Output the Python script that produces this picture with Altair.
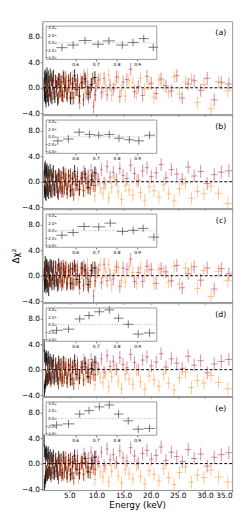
import altair as alt
import numpy as np
import pandas as pd

# ---------------- energies of the spectral bins (keV) ----------------
E_PN = [0.35, 0.40, 0.45, 0.50, 0.55, 0.60, 0.65, 0.70, 0.76, 0.82,
        0.88, 0.95, 1.02, 1.10, 1.18, 1.27, 1.36, 1.46, 1.56, 1.67,
        1.79, 1.91, 2.04, 2.18, 2.33, 2.49, 2.66, 2.84, 3.03, 3.24,
        3.46, 3.70, 3.96, 4.24, 4.54, 4.86, 5.20, 5.57, 5.97, 6.40,
        6.86, 7.35, 7.88, 8.45, 9.06, 9.70]
E_MOS = [0.6, 0.8, 1.0, 1.2, 1.4, 1.6, 1.8, 2.0, 2.2, 2.4,
         2.6, 2.8, 3.0, 3.2, 3.4, 3.6, 3.85, 4.1, 4.35, 4.6,
         4.9, 5.2, 5.5, 5.8, 6.15, 6.5, 6.85, 7.2, 7.6, 8.0,
         8.4, 8.85, 9.3, 9.75]
E_FPMA = [3.1, 3.35, 3.6, 3.85, 4.1, 4.35, 4.6, 4.9, 5.2, 5.5,
          5.8, 6.15, 6.5, 6.9, 7.3, 7.7, 8.1, 8.55, 9.0, 9.45,
          9.9, 10.4, 10.9, 11.4, 11.95, 12.5, 13.1, 13.7, 14.3, 14.9,
          15.6, 16.3, 17.0, 17.7, 18.5, 19.3, 20.1, 21.0, 21.9, 22.8,
          23.8, 24.8, 25.8, 26.9, 28.0, 29.2, 30.4, 31.7, 33.0, 34.4]
E_FPMB = [3.2, 3.45, 3.7, 3.95, 4.2, 4.5, 4.75, 5.05, 5.35, 5.65,
          6.0, 6.35, 6.7, 7.1, 7.5, 7.9, 8.35, 8.8, 9.25, 9.7,
          10.2, 10.7, 11.2, 11.7, 12.25, 12.8, 13.4, 14.0, 14.6, 15.3,
          16.0, 16.7, 17.4, 18.1, 18.9, 19.7, 20.6, 21.5, 22.4, 23.3,
          24.3, 25.3, 26.4, 27.5, 28.6, 29.8, 31.1, 32.5, 34.2]

# ---------------- residuals, panel (a) ----------------
A_PN = [0.5, -1.2, 1.6, -0.8, 1.9, -1.5, 0.9, -2.1, 1.4, -0.6,
        2.2, -1.3, 0.3, 1.7, -1.9, 0.8, -0.4, 2.0, -1.1, 1.2,
        -1.6, 0.6, 1.8, -0.9, -1.4, 1.0, 0.2, -1.8, 1.3, -0.5,
        0.9, -1.2, 1.5, 0.4, -0.9, 1.1, -1.6, 0.7, 1.9, -0.3,
        -1.3, 0.8, 1.4, -1.0, 0.5, 1.6]
A_MOS = [0.3, -1.0, 1.2, -0.7, 0.9, -1.4, 1.6, 0.2, -0.9, 1.1,
         -0.4, 0.7, -1.5, 1.3, 0.1, -1.1, 1.8, -0.6, 0.9, -1.3,
         0.4, 1.5, -0.8, -1.6, 0.6, 1.2, -0.3, 0.8, -1.9, 1.0,
         0.2, -0.7, 1.4, -1.1]
A_FPMA = [1.1, -0.6, 0.9, -1.3, 0.4, 1.6, -0.9, 0.2, 1.3, -1.7,
          0.6, -0.3, 1.0, -2.4, 0.8, 1.9, -0.7, -1.5, 0.5, -3.0,
          0.3, 1.2, -0.8, 1.5, -1.1, 0.4, -0.2, 1.7, -1.4, 0.9,
          1.3, 2.9, -0.6, 0.2, -1.2, 1.8, 0.7, -0.9, 1.4, 0.3,
          -0.5, 1.9, -1.6, 0.6, 1.1, -0.4, 1.5, -1.9, 0.8, 0.6]
A_FPMB = [-0.8, 1.2, 0.3, -1.4, 1.7, -0.5, 0.9, -1.1, 0.4, 1.8,
          -0.7, 0.6, -1.6, 1.3, 0.2, -0.9, 2.1, -0.3, 1.0, -1.8,
          0.7, 1.4, -0.6, 0.3, 2.0, -1.2, 0.5, 1.6, -0.4, -1.3,
          1.1, 0.8, -0.9, 1.5, -0.2, 0.6, -1.5, 1.2, 0.4, -0.7,
          1.7, -1.0, 0.9, 1.3, -2.3, 0.5, -3.3, 1.0, -0.5]

# ---------------- residuals, panel (b) ----------------
B_PN = [0.8, -1.5, 1.9, -1.0, 2.3, -1.8, 1.2, -2.0, 1.6, -0.9,
        1.9, -1.4, 0.5, 1.5, -1.7, 1.0, -0.6, 1.8, -1.3, 0.9,
        -1.5, 0.4, 1.6, -1.1, -1.3, 0.8, 0.1, -1.6, 1.1, -0.7,
        0.7, -1.0, 1.3, 0.2, -1.1, 0.9, -1.4, 0.5, 1.6, -0.5,
        -1.2, 0.6, 1.2, -0.9, 0.3, 1.4]
B_MOS = [0.1, -1.2, 0.9, -1.0, 0.6, -1.6, 1.2, -0.3, -1.3, 0.8,
         -0.8, 0.4, -1.9, 0.9, -0.4, -1.5, 1.4, -1.0, 0.5, -1.7,
         0.1, 1.1, -1.2, -2.0, 0.3, 0.8, -0.7, 0.5, -1.4, 0.6,
         -0.2, -1.1, 0.9, -0.6]
B_FPMA = [0.4, -1.0, 0.6, -1.5, 0.2, 1.1, -1.2, 0.0, 0.9, -1.4,
          0.5, -0.5, 1.3, -0.8, 0.6, 1.6, -0.3, 0.9, 1.8, -0.6,
          1.2, 0.4, 1.9, -0.2, 2.4, 0.7, 1.5, 0.3, 2.1, 1.0,
          0.5, 2.6, 1.3, 0.2, 1.7, 2.2, 0.8, 1.4, 2.7, 0.6,
          1.9, 1.2, 0.4, 2.3, 0.9, 1.6, -0.3, 1.1, 1.5, 1.7]
B_FPMB = [-0.6, 0.9, -0.2, -1.5, 1.1, -0.9, 0.4, -1.6, -0.2, 1.0,
          -1.2, 0.1, -2.0, 0.6, -0.7, -1.4, 0.9, -1.1, -0.3, -2.2,
          0.2, -1.0, -1.8, -0.4, -2.5, -0.9, 0.3, -1.6, -2.8, -0.6,
          -1.3, -2.1, 0.1, -1.7, -2.9, -0.8, -1.4, -2.4, -0.5, -1.9,
          -3.0, -1.1, -0.2, -2.6, -1.5, -1.9, -0.7, -1.8, -3.4]

# ---------------- residuals, panel (c) ----------------
C_PN = [0.2, -1.6, 1.3, -0.5, 2.1, -1.2, 0.6, -1.8, 1.7, -0.9,
        1.5, -1.6, 0.7, 1.2, -2.2, 0.4, -0.7, 1.6, -0.8, 1.5,
        -1.3, 0.2, 1.4, -1.2, -0.8, 1.3, -0.4, -1.5, 1.7, -0.2,
        1.2, -0.8, 1.0, 0.6, -1.3, 0.8, -1.2, 1.1, 1.5, -0.6,
        -1.0, 1.2, 0.9, -1.4, 0.8, 1.2]
C_MOS = [0.6, -0.7, 1.0, -1.1, 1.3, -0.9, 1.2, -0.3, -0.6, 1.4,
         -0.8, 0.9, -1.2, 1.0, 0.4, -1.4, 1.5, -0.2, 1.2, -0.9,
         0.7, 1.1, -1.1, -1.3, 0.9, 0.8, -0.6, 1.1, -1.5, 0.7,
         0.4, -0.9, 1.2, -0.8]
C_FPMA = [0.7, -0.9, 1.2, -1.0, 0.6, 1.3, -1.2, 0.5, 1.0, -1.4,
          0.9, -0.6, 1.3, -2.0, 0.4, 1.5, -0.4, -1.8, 0.8, -3.2,
          0.6, 0.9, -1.1, 1.8, -0.8, 0.1, -0.5, 1.4, -1.7, 1.2,
          1.0, 2.6, -0.9, 0.5, -0.9, 1.5, 1.0, -1.2, 1.1, 0.6,
          -0.8, 1.6, -1.9, 0.3, 1.4, -0.7, 1.2, -2.1, 1.1, 0.3]
C_FPMB = [-0.5, 1.5, 0.0, -1.1, 1.4, -0.8, 1.2, -0.8, 0.1, 1.5,
          -1.0, 0.9, -1.3, 1.0, 0.5, -1.2, 1.8, -0.6, 1.3, -1.5,
          0.4, 1.7, -0.3, 0.6, 1.7, -1.5, 0.8, 1.3, -0.7, -1.0,
          1.4, 0.5, -1.2, 1.2, 0.1, 0.9, -1.2, 0.9, 0.7, -1.0,
          1.4, -1.3, 1.2, 1.0, -2.0, 0.8, -3.3, 0.7, -0.8]

# ---------------- residuals, panel (d) ----------------
D_PN = [3.8, -3.2, 2.2, -2.6, 1.8, -2.0, 1.5, -1.7, 2.0, -1.1,
        1.6, -1.5, 0.8, 1.9, -1.2, 1.1, -0.8, 1.5, -1.4, 1.0,
        -1.2, 0.6, 1.4, -1.3, -1.0, 0.9, -0.2, -1.4, 1.2, -0.8,
        0.8, -1.2, 1.1, 0.0, -1.3, 0.7, -1.5, 0.4, 1.4, -0.7,
        -1.3, 0.4, 1.0, -1.1, 0.2, 1.2]
D_MOS = [-0.2, -1.4, 0.7, -1.3, 0.4, -1.8, 1.0, -0.5, -1.5, 0.6,
         -1.0, 0.2, -2.1, 0.7, -0.6, -1.7, 1.2, -1.2, 0.3, -1.9,
         -0.1, 0.9, -1.4, -2.2, 0.1, 0.6, -0.9, 0.3, -1.6, 0.4,
         -0.4, -1.3, 0.7, -0.8]
D_FPMA = [0.2, -1.2, 0.4, -1.7, 0.0, 0.9, -1.4, -0.2, 0.7, -1.6,
          0.3, -0.7, 1.1, -1.0, 0.4, 1.4, -0.5, 0.7, 1.6, -0.8,
          1.0, 0.2, 1.7, -0.4, 2.2, 0.5, 1.3, 0.1, 1.9, 0.8,
          0.3, 2.4, 1.1, 0.0, 1.5, 2.0, 0.6, 1.2, 2.5, 0.4,
          1.7, 1.0, 0.2, 2.1, 0.7, 1.4, -0.5, 0.9, 1.3, 1.6]
D_FPMB = [-0.8, 0.7, -0.4, -1.7, 0.9, -1.1, 0.2, -1.8, -0.4, 0.8,
          -1.4, -0.1, -2.2, 0.4, -0.9, -1.6, 0.7, -1.3, -0.5, -2.4,
          0.0, -1.2, -2.0, -0.6, -2.7, -1.1, 0.1, -1.8, -3.0, -0.8,
          -1.5, -2.3, -0.1, -1.9, -3.1, -1.0, -1.6, -2.6, -0.7, -2.1,
          -3.2, -1.3, -0.4, -2.8, -1.7, -2.1, -0.9, -2.0, -3.0]

# ---------------- residuals, panel (e) ----------------
E_PN_R = [3.6, -3.4, 2.0, -2.8, 1.6, -2.2, 1.3, -1.9, 1.8, -1.3,
          1.4, -1.7, 0.6, 1.7, -1.4, 0.9, -1.0, 1.3, -1.6, 0.8,
          -1.4, 0.4, 1.2, -1.5, -1.2, 0.7, -0.4, -1.6, 1.0, -1.0,
          0.6, -1.4, 0.9, -0.2, -1.5, 0.5, -1.7, 0.2, 1.2, -0.9,
          -1.5, 0.2, 0.8, -1.3, 0.0, 1.0]
E_MOS_R = [-0.4, -1.5, 0.5, -1.4, 0.2, -1.9, 0.8, -0.7, -1.6, 0.4,
           -1.2, 0.0, -2.2, 0.5, -0.8, -1.8, 1.0, -1.3, 0.1, -2.0,
           -0.3, 0.7, -1.5, -2.3, -0.1, 0.4, -1.0, 0.1, -1.7, 0.2,
           -0.6, -1.4, 0.5, -0.9]
E_FPMA_R = [0.3, -1.1, 0.5, -1.6, 0.1, 1.0, -1.3, -0.1, 0.8, -1.5,
            0.4, -0.6, 1.2, -0.9, 0.5, 1.5, -0.4, 0.8, 1.7, -0.7,
            1.1, 0.3, 1.8, -0.3, 2.3, 0.6, 1.4, 0.2, 2.0, 0.9,
            0.4, 2.5, 1.2, 0.1, 1.6, 2.1, 0.7, 1.3, 2.6, 0.5,
            1.8, 1.1, 0.3, 2.2, 0.8, 1.5, -0.4, 1.0, 1.4, 1.7]
E_FPMB_R = [-0.9, 0.6, -0.5, -1.8, 0.8, -1.2, 0.1, -1.9, -0.5, 0.7,
            -1.5, -0.2, -2.3, 0.3, -1.0, -1.7, 0.6, -1.4, -0.6, -2.5,
            -0.1, -1.3, -2.1, -0.7, -2.8, -1.2, 0.0, -1.9, -3.1, -0.9,
            -1.6, -2.4, -0.2, -2.0, -3.2, -1.1, -1.7, -2.7, -0.8, -2.2,
            -3.3, -1.4, -0.5, -2.9, -1.8, -2.2, -1.0, -2.1, -2.9]

# ---------------- inset (0.5-1 keV) residuals ----------------
INSET_E_A = [0.536, 0.590, 0.648, 0.711, 0.763, 0.828, 0.880, 0.932, 0.978]
INSET_R_A = [-1.3, -0.6, 0.6, -0.4, 0.5, -0.6, 0.1, 1.1, -1.2]
INSET_E_B = [0.516, 0.567, 0.619, 0.670, 0.714, 0.765, 0.812, 0.862, 0.908, 0.960]
INSET_R_B = [-1.1, -0.6, 1.2, 0.6, 0.4, 0.6, -0.4, -0.8, -1.1, 0.4]
INSET_E_C = [0.536, 0.590, 0.643, 0.714, 0.770, 0.829, 0.881, 0.929, 0.981]
INSET_R_C = [-1.2, -0.5, 1.1, 1.0, 2.0, -0.2, 0.1, 0.6, -1.7]
INSET_E_D = [0.510, 0.568, 0.622, 0.667, 0.717, 0.765, 0.810, 0.857, 0.905, 0.960]
INSET_R_D = [-1.5, -1.2, 1.5, 2.4, 3.4, 3.9, 1.7, 0.1, -2.5, -2.2]
INSET_E_E = [0.510, 0.568, 0.622, 0.667, 0.717, 0.765, 0.810, 0.857, 0.905, 0.960]
INSET_R_E = [-1.7, -1.4, 1.2, 2.1, 3.1, 3.6, 1.2, -0.6, -2.8, -2.6]

PANEL_LABELS = ["(a)", "(b)", "(c)", "(d)", "(e)"]
SERIES = ["pn", "mos", "fpma", "fpmb"]
COLORS = ["rgba(0,0,0,0.85)", "rgba(140,35,10,0.75)",
          "rgba(170,30,65,0.5)", "rgba(255,140,30,0.5)"]

Y_TICKS = [-4, 0, 4, 8]
X_TICKS = [5, 10, 15, 20, 25, 30, 35]
INSET_X_TICKS = [0.6, 0.7, 0.8, 0.9]
INSET_Y_TICKS = [-4, -2, 0, 2, 4]

X_DOM = [0, 35]
Y_DOM = [-4.15, 10.45]
IN_X_DOM = [0.507, 0.995]
IN_Y_DOM = [-4.4, 4.4]

W, H = 194, 95
IN_LEFT, IN_RIGHT, IN_TOP, IN_BOTTOM = 14, 117, 5, 39
FONT = "DejaVu Sans"


def halfwidths(E):
    E = np.asarray(E, dtype=float)
    d = np.diff(E)
    left = np.concatenate([[d[0]], d])
    right = np.concatenate([d, [d[-1]]])
    return (left + right) / 4.0


def series_df(E, r, name):
    E = np.asarray(E, dtype=float)
    r = np.asarray(r, dtype=float)
    hw = halfwidths(E)
    return pd.DataFrame({"E": E, "r": r, "lo": E - hw, "hi": E + hw,
                         "rlo": r - 1.0, "rhi": r + 1.0, "s": name})


def panel(idx, resid, inE, inR):
    bottom = idx == 4
    df = pd.concat([series_df(E, r, s) for E, r, s in
                    zip([E_PN, E_MOS, E_FPMA, E_FPMB], resid, SERIES)],
                   ignore_index=True)
    xs = alt.Scale(domain=X_DOM, nice=False, zero=False)
    ys = alt.Scale(domain=Y_DOM, nice=False, zero=False)
    xax = alt.Axis(values=X_TICKS, format=".1f", labels=bottom, tickSize=2,
                   grid=False, title="Energy (keV)" if bottom else None,
                   labelFontSize=7.5, titleFontSize=9, titleFontWeight="normal",
                   titlePadding=1, labelPadding=0, domainColor="#999",
                   tickColor="#666")
    yax = alt.Axis(values=Y_TICKS, format=".1f", tickSize=2, grid=False,
                   title="Δχ²" if idx == 2 else None, labelFontSize=7.5,
                   titleFontSize=9, titleFontWeight="normal", titlePadding=1,
                   labelPadding=1, domainColor="#999", tickColor="#666")
    color = alt.Color("s:N", scale=alt.Scale(domain=SERIES, range=COLORS),
                      legend=None)
    base = alt.Chart(df)
    vbar = base.mark_rule(strokeWidth=1, clip=True).encode(
        x=alt.X("E:Q", scale=xs, axis=xax),
        y=alt.Y("rlo:Q", scale=ys, axis=yax), y2="rhi:Q", color=color)
    hbar = base.mark_rule(strokeWidth=1, clip=True).encode(
        x=alt.X("lo:Q", scale=xs, axis=xax), x2="hi:Q",
        y=alt.Y("r:Q", scale=ys, axis=yax), color=color)
    zero = alt.Chart(pd.DataFrame({"z": [0.0]})).mark_rule(
        color="black", strokeDash=[3, 2], strokeWidth=1).encode(
        y=alt.Y("z:Q", scale=ys, axis=yax))
    label = alt.Chart(pd.DataFrame({"t": [PANEL_LABELS[idx]]})).mark_text(
        align="right", baseline="middle", fontSize=8, font=FONT,
        color="black").encode(text="t:N", x=alt.value(188), y=alt.value(12))
    main = alt.layer(vbar, hbar, zero, label)

    # ---- inset ----
    ixs = alt.Scale(domain=IN_X_DOM, range=[IN_LEFT, IN_RIGHT], nice=False, zero=False)
    iys = alt.Scale(domain=IN_Y_DOM, range=[IN_BOTTOM, IN_TOP], nice=False, zero=False)
    ixax = alt.Axis(orient="bottom", offset=-(H - IN_BOTTOM), values=INSET_X_TICKS,
                    format=".1f", labelFontSize=4.5, tickSize=1.5, domain=False,
                    grid=False, title=None, labelPadding=1, tickColor="#666",
                    zindex=2)
    iyax = alt.Axis(orient="left", offset=-IN_LEFT, values=INSET_Y_TICKS,
                    format=".1f", labelFontSize=4, tickSize=1.5, domain=False,
                    grid=False, title=None, labelPadding=0.5, tickColor="#666",
                    zindex=2)
    per_px = (IN_X_DOM[1] - IN_X_DOM[0]) / (IN_RIGHT - IN_LEFT)
    fdf = pd.DataFrame({"x0": [IN_X_DOM[0] - 10 * per_px], "x1": [IN_X_DOM[1]],
                        "y0": [IN_Y_DOM[0]], "y1": [IN_Y_DOM[1]]})
    frame = alt.Chart(fdf).mark_rect(fill="white", stroke="#999", strokeWidth=1).encode(
        x=alt.X("x0:Q", scale=ixs, axis=ixax), x2="x1:Q",
        y=alt.Y("y0:Q", scale=iys, axis=iyax), y2="y1:Q")
    zdf = pd.DataFrame({"a": [IN_X_DOM[0]], "b": [IN_X_DOM[1]], "z": [0.0]})
    izero = alt.Chart(zdf).mark_rule(color="#aaa", strokeDash=[1, 1.5],
                                     strokeWidth=0.8).encode(
        x=alt.X("a:Q", scale=ixs, axis=ixax), x2="b:Q",
        y=alt.Y("z:Q", scale=iys, axis=iyax))
    idf = series_df(inE, inR, "inset")
    ib = alt.Chart(idf)
    iv = ib.mark_rule(color="#555", strokeWidth=0.8).encode(
        x=alt.X("E:Q", scale=ixs, axis=ixax),
        y=alt.Y("rlo:Q", scale=iys, axis=iyax), y2="rhi:Q")
    ih = ib.mark_rule(color="#555", strokeWidth=0.8).encode(
        x=alt.X("lo:Q", scale=ixs, axis=ixax), x2="hi:Q",
        y=alt.Y("r:Q", scale=iys, axis=iyax))
    inset = alt.layer(frame, izero, iv, ih)

    return alt.layer(main, inset).resolve_scale(
        x="independent", y="independent").properties(width=W, height=H)


RESID = [
    [A_PN, A_MOS, A_FPMA, A_FPMB],
    [B_PN, B_MOS, B_FPMA, B_FPMB],
    [C_PN, C_MOS, C_FPMA, C_FPMB],
    [D_PN, D_MOS, D_FPMA, D_FPMB],
    [E_PN_R, E_MOS_R, E_FPMA_R, E_FPMB_R],
]
INSETS = [(INSET_E_A, INSET_R_A), (INSET_E_B, INSET_R_B), (INSET_E_C, INSET_R_C),
          (INSET_E_D, INSET_R_D), (INSET_E_E, INSET_R_E)]

panels = [panel(i, RESID[i], INSETS[i][0], INSETS[i][1]) for i in range(5)]

chart = alt.vconcat(*panels, spacing=1, bounds="flush").properties(
    padding={"left": 3, "top": 7, "right": 5, "bottom": 0}
).configure_view(stroke="#999", strokeWidth=1).configure_axis(
    labelFont=FONT, titleFont=FONT, labelColor="black", titleColor="black"
)

chart.save("out.html", embed_options={"renderer": "svg", "actions": False})
